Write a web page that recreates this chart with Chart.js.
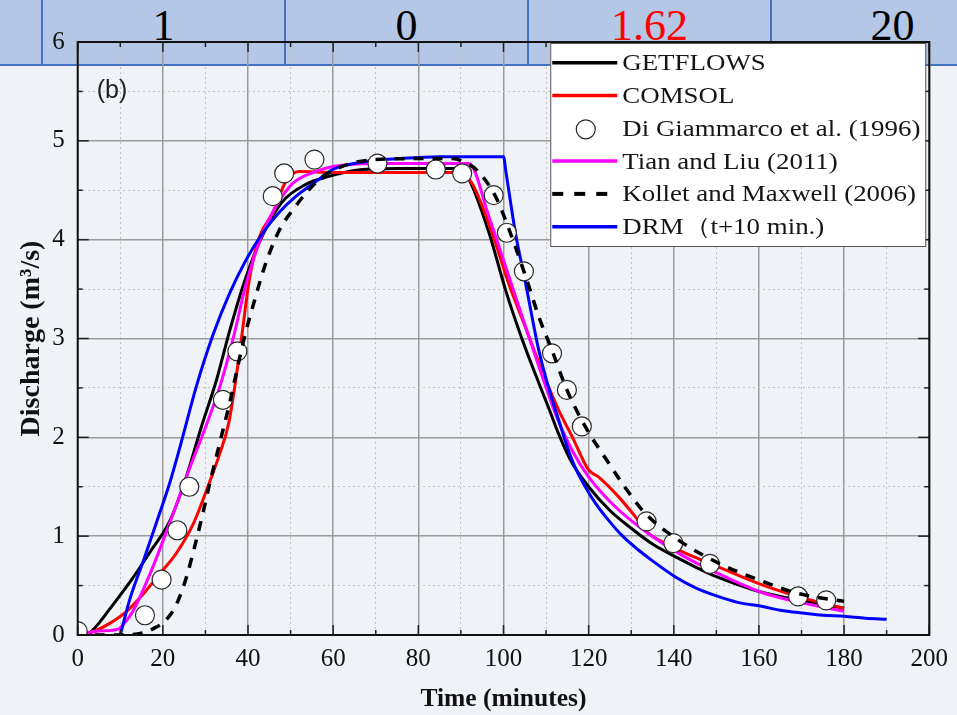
<!DOCTYPE html>
<html><head><meta charset="utf-8">
<script src="https://cdn.jsdelivr.net/npm/chart.js@4.4.0/dist/chart.umd.min.js"></script>
<style>
html,body{margin:0;padding:0;width:957px;height:715px;overflow:hidden;background:#eff2f7;}
#band{position:absolute;left:0;top:0;width:957px;height:64px;background:#b4c7e7;border-bottom:2px solid #4472c4;overflow:hidden;}
.vl{position:absolute;top:0;width:2px;height:64px;background:#4472c4;}
.num{position:absolute;top:1px;width:243px;text-align:center;font-family:"Liberation Serif","Times New Roman",serif;font-size:44px;line-height:50px;color:#000;}
#c{position:absolute;left:0;top:0;}
</style></head>
<body>
<div id="band">
  <div class="vl" style="left:41px"></div>
  <div class="vl" style="left:284px"></div>
  <div class="vl" style="left:527px"></div>
  <div class="vl" style="left:770px"></div>
  <div class="num" style="left:42px">1</div>
  <div class="num" style="left:285px">0</div>
  <div class="num" style="left:528px;color:#ff0000">1.62</div>
  <div class="num" style="left:771px">20</div>
</div>
<canvas id="c" width="957" height="715"></canvas>
<script>
// ---- data (time in minutes, discharge in m3/s) ----
const getflowsT = [2.5, 5, 8, 12.5, 17, 21.7, 25.5, 29, 32.6, 35.7, 39.2, 43.5, 48, 53.6, 59, 65, 75, 89.5, 92, 96.6, 100.5, 104.4, 108.3, 110.6, 113, 116, 120, 125, 130, 135, 140, 145, 150, 155, 160, 165, 170, 175, 180];
const getflowsQ = [0, 0.12, 0.29, 0.55, 0.84, 1.16, 1.6, 2.1, 2.58, 3.08, 3.58, 4.05, 4.38, 4.56, 4.64, 4.70, 4.72, 4.72, 4.60, 4.07, 3.49, 2.99, 2.55, 2.30, 2.03, 1.75, 1.50, 1.26, 1.08, 0.92, 0.80, 0.69, 0.59, 0.51, 0.44, 0.39, 0.35, 0.31, 0.27];

const comsolT = [1.5, 5, 7.6, 11.5, 15.5, 19.3, 23.2, 27.2, 30.3, 33.4, 35.5, 38, 40.4, 42.7, 45.8, 48.9, 52, 60, 75, 89.5, 92.6, 97.3, 101.2, 105.1, 109, 112.9, 116.1, 120, 122.3, 127, 130.9, 133.8, 137.9, 142.6, 150.4, 160.6, 170.7, 180];
const comsolQ = [0, 0.06, 0.12, 0.24, 0.42, 0.62, 0.83, 1.13, 1.47, 1.84, 2.15, 2.85, 3.62, 4.03, 4.27, 4.59, 4.69, 4.68, 4.68, 4.68, 4.57, 4.07, 3.56, 3.12, 2.68, 2.28, 2.01, 1.67, 1.60, 1.40, 1.20, 1.04, 0.93, 0.83, 0.69, 0.51, 0.37, 0.27];

const diGiammarcoT = [0, 15.8, 19.7, 23.4, 26.2, 34.1, 37.5, 45.8, 48.5, 55.6, 70.4, 84.1, 90.3, 97.7, 100.8, 104.8, 111.4, 114.9, 118.4, 133.6, 139.9, 148.5, 169.2, 175.8];
const diGiammarcoQ = [0.04, 0.20, 0.56, 1.06, 1.50, 2.38, 2.87, 4.44, 4.67, 4.81, 4.77, 4.71, 4.67, 4.45, 4.07, 3.68, 2.85, 2.48, 2.11, 1.15, 0.93, 0.72, 0.39, 0.35];

const tianT = [1.5, 5, 9.5, 11, 13.1, 17, 20.1, 23.3, 26.4, 30, 33.3, 36.4, 39.6, 43.5, 46.6, 50.5, 56, 60, 70, 80, 91.9, 96.6, 100.5, 104.4, 108.3, 112.2, 116.1, 120, 126.2, 133.9, 142.6, 152, 161.4, 170.7, 180];
const tianQ = [0.02, 0.04, 0.06, 0.12, 0.25, 0.62, 0.96, 1.33, 1.70, 2.10, 2.50, 2.98, 3.56, 4.07, 4.34, 4.57, 4.69, 4.74, 4.77, 4.77, 4.77, 4.23, 3.73, 3.22, 2.72, 2.24, 1.87, 1.60, 1.30, 1.03, 0.79, 0.59, 0.42, 0.32, 0.24];

const kolletT = [4, 10, 14, 16, 18, 20, 22, 23.3, 25.5, 27.5, 29.5, 31.1, 33.4, 35.7, 37.5, 39.2, 41.5, 44, 47.4, 50.5, 53.6, 56.7, 60, 65, 70, 80, 88, 91, 93.8, 98.1, 101.6, 105.5, 108.3, 111.4, 114.9, 119.2, 124.7, 127.8, 133.3, 141.1, 150.4, 159.8, 169.2, 180];
const kolletQ = [0, 0, 0.01, 0.03, 0.07, 0.12, 0.22, 0.32, 0.58, 0.90, 1.25, 1.55, 1.95, 2.35, 2.70, 3.02, 3.38, 3.74, 4.10, 4.30, 4.47, 4.61, 4.70, 4.78, 4.81, 4.82, 4.82, 4.78, 4.70, 4.44, 4.07, 3.59, 3.22, 2.88, 2.48, 2.11, 1.74, 1.54, 1.23, 0.96, 0.73, 0.56, 0.42, 0.34];

const drmT = [10, 12.3, 15.5, 18.6, 21.7, 24.2, 27.9, 31.8, 35.7, 39.6, 43.5, 47.4, 51.3, 56, 59.9, 67.7, 75.5, 85, 100, 100.6, 102.8, 105.2, 106.7, 108.3, 110.6, 113, 115, 117, 119.2, 121.5, 124.7, 128, 131.7, 135, 140.3, 145, 150.4, 155, 160.6, 165, 170.7, 175, 180, 185, 190];
const drmQ = [0, 0.37, 0.76, 1.15, 1.55, 1.93, 2.52, 3.04, 3.46, 3.80, 4.07, 4.28, 4.44, 4.59, 4.71, 4.79, 4.82, 4.84, 4.84, 4.68, 4.07, 3.56, 3.22, 2.88, 2.50, 2.17, 1.90, 1.68, 1.50, 1.34, 1.16, 1.00, 0.86, 0.75, 0.59, 0.48, 0.39, 0.33, 0.29, 0.25, 0.22, 0.20, 0.19, 0.17, 0.16];

const seriesLabels = ['GETFLOWS', 'COMSOL', 'Di Giammarco et al. (1996)', 'Tian and Liu (2011)', 'Kollet and Maxwell (2006)', 'DRM\uFF08t+10 min.)'];
const xTickLabels = [0, 20, 40, 60, 80, 100, 120, 140, 160, 180, 200];
const yTickLabels = [0, 1, 2, 3, 4, 5, 6];
const xTitle = 'Time (minutes)';
const yTitle = 'Discharge (m\u00B3/s)';
const panelLabel = '(b)';

const pts = (t, q) => t.map((x, i) => ({x: x, y: q[i]}));
const lineDs = (label, t, q, color, order, extra) => Object.assign({
  label, data: pts(t, q), borderColor: color, backgroundColor: color,
  borderWidth: 3, pointRadius: 0, fill: false, cubicInterpolationMode: 'monotone', order
}, extra || {});

const datasets = [
  lineDs(seriesLabels[0], getflowsT, getflowsQ, '#000000', 5),
  lineDs(seriesLabels[1], comsolT, comsolQ, '#ff0000', 4),
  { label: seriesLabels[2], data: pts(diGiammarcoT, diGiammarcoQ), showLine: false,
    pointRadius: 9.5, pointBackgroundColor: '#ffffff', pointBorderColor: '#2a2a2a',
    pointBorderWidth: 1.2, borderColor: '#2a2a2a', backgroundColor: '#ffffff', order: 1 },
  lineDs(seriesLabels[3], tianT, tianQ, '#ff00ff', 3),
  lineDs(seriesLabels[4], kolletT, kolletQ, '#000000', 0, {borderDash: [10, 9], borderWidth: 3.5}),
  lineDs(seriesLabels[5], drmT, drmQ, '#0000ff', 2)
];

const SERIF = '"Liberation Serif", "Times New Roman", serif';

const decor = {
  id: 'decor',
  afterDraw(chart) {
    const {ctx, chartArea: a, scales: {x, y}} = chart;
    ctx.save();
    const ln = (x1, y1, x2, y2) => { ctx.beginPath(); ctx.moveTo(x1, y1); ctx.lineTo(x2, y2); ctx.stroke(); };
    ctx.strokeStyle = '#222'; ctx.lineWidth = 1.5;
    x.ticks.forEach(t => {
      const px = x.getPixelForValue(t.value);
      const L = (t.value % 20 === 0) ? 10 : 5;
      ln(px, a.bottom, px, a.bottom - L); ln(px, a.top, px, a.top + L);
    });
    y.ticks.forEach(t => {
      const py = y.getPixelForValue(t.value);
      const L = Number.isInteger(t.value) ? 11 : 5;
      ln(a.left, py, a.left + L, py); ln(a.right, py, a.right - L, py);
    });
    ctx.strokeStyle = '#111'; ctx.lineWidth = 2;
    ctx.strokeRect(a.left, a.top, a.right - a.left, a.bottom - a.top);

    // panel label
    ctx.fillStyle = '#222';
    ctx.font = '25px "Liberation Sans", Arial, sans-serif';
    ctx.textBaseline = 'alphabetic'; ctx.textAlign = 'left';
    ctx.fillText(panelLabel, a.left + 19, a.top + 56);

    // legend
    const bx = a.right - 379, by = a.top + 1, bw = 375, bh = 203;
    ctx.fillStyle = '#ffffff'; ctx.fillRect(bx, by, bw, bh);
    ctx.strokeStyle = '#555'; ctx.lineWidth = 1; ctx.strokeRect(bx + 0.5, by + 0.5, bw, bh);
    chart.data.datasets.forEach((d, i) => {
      const ry = by + 19.7 + i * 32.8;
      const x0 = bx + 2, x1 = bx + 67;
      if (d.showLine === false) {
        ctx.beginPath(); ctx.arc((x0 + x1) / 2 + 1, ry + 1, 9.5, 0, Math.PI * 2);
        ctx.fillStyle = '#fff'; ctx.fill();
        ctx.strokeStyle = '#2a2a2a'; ctx.lineWidth = 1.2; ctx.stroke();
      } else {
        ctx.strokeStyle = d.borderColor; ctx.lineWidth = d.borderWidth + 0.5;
        ctx.setLineDash(d.borderDash ? [11, 11] : []);
        ln(x0, ry, x1, ry);
        ctx.setLineDash([]);
      }
      ctx.save();
      ctx.translate(bx + 72, ry + 7.5);
      ctx.scale(1.17, 1);
      ctx.fillStyle = '#151515';
      ctx.font = '23px ' + SERIF;
      ctx.textBaseline = 'alphabetic';
      ctx.fillText(d.label, 0, 0);
      ctx.restore();
    });
    ctx.restore();
  }
};

const minorDash = [2, 3];
new Chart(document.getElementById('c'), {
  type: 'line',
  data: { datasets },
  options: {
    responsive: false, animation: false, devicePixelRatio: 1,
    layout: { padding: { left: 15, top: 42, right: 25, bottom: 0 } },
    plugins: { legend: { display: false }, tooltip: { enabled: false } },
    scales: {
      x: {
        type: 'linear', min: 0, max: 200,
        afterFit: s => { s.height = 80; },
        ticks: { stepSize: 10, autoSkip: false, maxRotation: 0, padding: 9,
          callback: v => xTickLabels.includes(v) ? String(v) : '',
          font: { family: SERIF, size: 25 }, color: '#111' },
        grid: { drawTicks: false,
          color: c => (c.tick && c.tick.value % 20 === 0) ? '#9a9a9a' : '#c2c2c2',
          lineWidth: c => (c.tick && c.tick.value % 20 === 0) ? 1.5 : 1 },
        border: { display: false, dash: c => (c.tick && c.tick.value % 20 !== 0) ? minorDash : [] },
        title: { display: true, text: xTitle, padding: 0,
          font: { family: SERIF, size: 25.5, weight: 'bold' }, color: '#111' }
      },
      y: {
        type: 'linear', min: 0, max: 6,
        afterFit: s => { s.width = 62.7; },
        ticks: { stepSize: 0.5, autoSkip: false, padding: 13,
          callback: v => yTickLabels.includes(v) ? String(v) : '',
          font: { family: SERIF, size: 25 }, color: '#111' },
        grid: { drawTicks: false,
          color: c => (c.tick && Number.isInteger(c.tick.value)) ? '#9a9a9a' : '#c2c2c2',
          lineWidth: c => (c.tick && Number.isInteger(c.tick.value)) ? 1.5 : 1 },
        border: { display: false, dash: c => (c.tick && !Number.isInteger(c.tick.value)) ? minorDash : [] },
        title: { display: true, text: yTitle, padding: 0,
          font: { family: SERIF, size: 28, weight: 'bold' }, color: '#111' }
      }
    }
  },
  plugins: [decor]
});
</script>
</body></html>
